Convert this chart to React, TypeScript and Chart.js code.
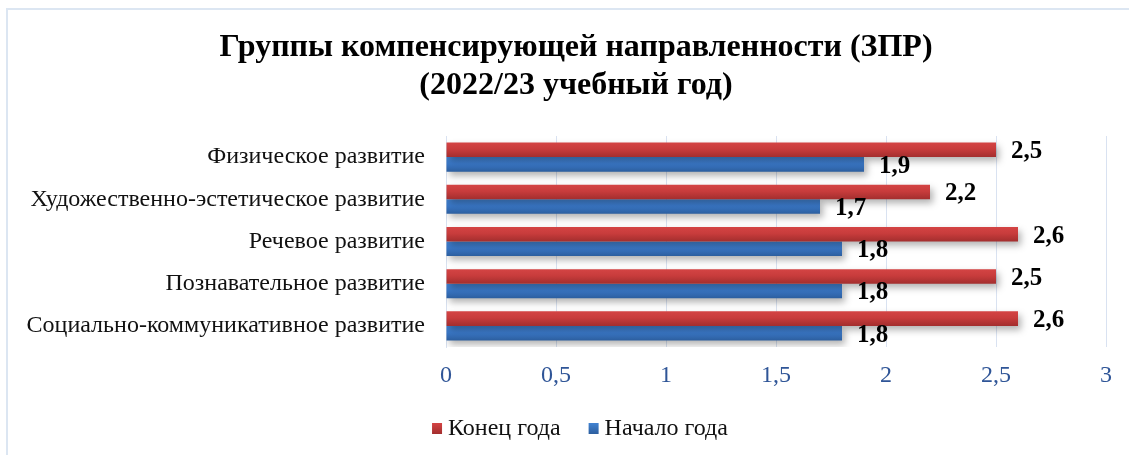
import React, { useEffect, useRef } from "react";
import { Chart, registerables } from "chart.js";

Chart.register(...registerables);

const categories = [
  "Физическое развитие",
  "Художественно-эстетическое развитие",
  "Речевое развитие",
  "Познавательное развитие",
  "Социально-коммуникативное развитие",
];
const seriesNames = ["Конец года", "Начало года"];
const endOfYear = [2.5, 2.2, 2.6, 2.5, 2.6];
const startOfYear = [1.9, 1.7, 1.8, 1.8, 1.8];
const xTickMin = 0;
const xTickMax = 3;
const xTickStep = 0.5;
const titleLines = [
  "Группы компенсирующей направленности (ЗПР)",
  "(2022/23 учебный год)",
];

const SERIF = "'Liberation Serif', 'Times New Roman', serif";
const CAT_PCT = 0.69;

const palettes = [
  { solid: "#C63A3A", top: "#D44444", mid: "#C83C3C", bottom: "#A32E2E" },
  { solid: "#3B76C4", top: "#4283D2", mid: "#3A78C8", bottom: "#2C5E9E" },
];

function makeFill(di: number) {
  return (ctx: any) => {
    const p = palettes[di];
    const chart = ctx.chart;
    if (ctx.type !== "data" || !chart.chartArea) return p.solid;
    const y = chart.scales.y;
    if (!y) return p.solid;
    const yc = y.getPixelForValue(ctx.dataIndex);
    const catH = (chart.chartArea.bottom - chart.chartArea.top) / categories.length;
    const t = (catH * CAT_PCT) / 2;
    const top = di === 0 ? yc - t : yc;
    const g = chart.ctx.createLinearGradient(0, top, 0, top + t);
    g.addColorStop(0, p.top);
    g.addColorStop(0.45, p.mid);
    g.addColorStop(1, p.bottom);
    return g;
  };
}

const shadowPlugin = {
  id: "barShadow",
  beforeDatasetsDraw(chart: any) {
    const c = chart.ctx;
    c.save();
    c.shadowColor = "rgba(0,0,0,0.3)";
    c.shadowBlur = 7;
    c.shadowOffsetX = 3;
    c.shadowOffsetY = 4;
  },
  afterDatasetsDraw(chart: any) {
    chart.ctx.restore();
  },
};

const valueLabelPlugin = {
  id: "valueLabels",
  afterDatasetsDraw(chart: any) {
    const c = chart.ctx;
    c.save();
    c.font = `bold 25px ${SERIF}`;
    c.fillStyle = "#000000";
    c.textAlign = "left";
    c.textBaseline = "middle";
    chart.data.datasets.forEach((ds: any, di: number) => {
      const meta = chart.getDatasetMeta(di);
      meta.data.forEach((el: any, i: number) => {
        const v = ds.data[i];
        c.fillText(String(v).replace(".", ","), el.x + 15, el.y + 2);
      });
    });
    c.restore();
  },
};

const titlePlugin = {
  id: "twoLineTitle",
  afterDraw(chart: any) {
    const c = chart.ctx;
    c.save();
    c.font = `bold 32px ${SERIF}`;
    c.fillStyle = "#000000";
    c.textAlign = "center";
    c.textBaseline = "middle";
    const cx = chart.width / 2;
    c.fillText(titleLines[0], cx, 38);
    c.fillText(titleLines[1], cx, 76);
    c.restore();
  },
};

const legendPlugin = {
  id: "customLegend",
  afterDraw(chart: any) {
    const c = chart.ctx;
    c.save();
    c.font = `24px ${SERIF}`;
    c.textBaseline = "middle";
    c.textAlign = "left";
    const box = 10;
    const gapText = 6;
    const gapItem = 28;
    const widths = seriesNames.map((n) => c.measureText(n).width);
    const total =
      widths.reduce((a: number, w: number) => a + w + box + gapText, 0) +
      gapItem * (seriesNames.length - 1);
    let x = chart.width / 2 - total / 2 + 4;
    const y = 418;
    seriesNames.forEach((n, i) => {
      const p = palettes[i];
      const g = c.createLinearGradient(0, y - 5, 0, y + 6);
      g.addColorStop(0, p.top);
      g.addColorStop(1, p.bottom);
      c.fillStyle = g;
      c.fillRect(x, y - 5, box, 11);
      x += box + gapText;
      c.fillStyle = "#111111";
      c.fillText(n, x, y + 1);
      x += widths[i] + gapItem;
    });
    c.restore();
  },
};

export default function App() {
  const ref = useRef<HTMLCanvasElement | null>(null);

  useEffect(() => {
    if (!ref.current) return;
    const chart = new Chart(ref.current, {
      type: "bar",
      data: {
        labels: categories,
        datasets: [
          {
            label: seriesNames[0],
            data: endOfYear,
            backgroundColor: makeFill(0),
            borderWidth: 0,
            categoryPercentage: CAT_PCT,
            barPercentage: 1,
          },
          {
            label: seriesNames[1],
            data: startOfYear,
            backgroundColor: makeFill(1),
            borderWidth: 0,
            categoryPercentage: CAT_PCT,
            barPercentage: 1,
          },
        ],
      },
      options: {
        indexAxis: "y",
        animation: false,
        responsive: false,
        maintainAspectRatio: false,
        layout: { padding: { top: 126, right: 38, left: 0, bottom: 48 } },
        scales: {
          x: {
            min: xTickMin,
            max: xTickMax,
            ticks: {
              stepSize: xTickStep,
              color: "#2F5597",
              font: { family: SERIF, size: 24 },
              padding: 14,
              callback: (v: any) => String(v).replace(".", ","),
            },
            grid: { color: "#D9E2F1", lineWidth: 1, drawTicks: false },
            border: { display: false },
            afterFit: (s: any) => {
              s.height = 60;
            },
          },
          y: {
            ticks: {
              color: "#111111",
              font: { family: SERIF, size: 24 },
              padding: 21,
            },
            grid: { display: false, drawTicks: false },
            border: { display: true, color: "#D9E2F1", width: 1 },
            afterFit: (s: any) => {
              s.width = 438;
            },
          },
        },
        plugins: {
          title: { display: false },
          tooltip: { enabled: false },
          legend: { display: false },
        },
      },
      plugins: [shadowPlugin, valueLabelPlugin, titlePlugin, legendPlugin],
    });
    return () => chart.destroy();
  }, []);

  return (
    <div
      style={{
        position: "fixed",
        left: 0,
        top: 0,
        width: 1129,
        height: 455,
        overflow: "hidden",
        background: "#ffffff",
      }}
    >
      <div
        style={{
          position: "absolute",
          left: 6,
          top: 8,
          width: 1160,
          height: 500,
          borderTop: "2px solid #DCE6F2",
          borderLeft: "2px solid #DCE6F2",
        }}
      >
        <canvas ref={ref} width={1136} height={445} style={{ display: "block" }} />
      </div>
    </div>
  );
}
